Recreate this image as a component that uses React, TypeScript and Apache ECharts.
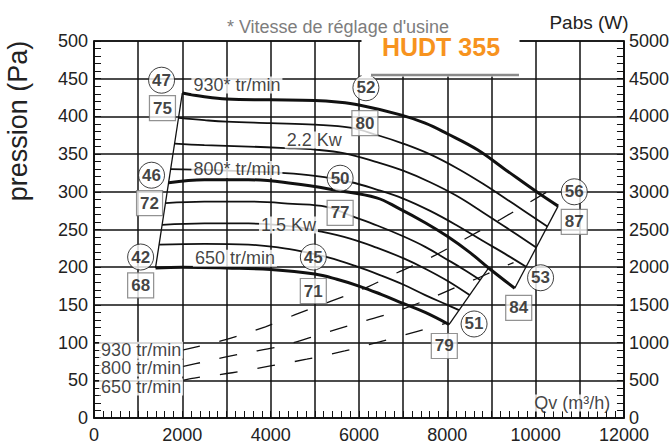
import React, { useEffect, useRef } from "react";
import * as echarts from "echarts";

const FONT = '"Liberation Sans", Arial, Helvetica, sans-serif';

// Fan curves (Qv m3/h, pression Pa)
const curve930 = [[2000,431],[2500,426],[3000,423],[4000,422],[5000,421],[5500,419],[6000,415],[6943,402],[7500,391],[8000,377],[8674,356],[9300,330],[10022,300],[10509,281]];
const curveA = [[1914,398],[2500,395],[3000,393],[4000,391],[5000,389],[5800,385],[6426,375],[7000,364],[7600,350],[8200,332],[8800,311],[9500,284],[10266,254]];
const curveB = [[1825,364],[2500,362],[3500,360],[4330,358],[5000,356],[5678,351],[6426,339],[7000,328],[7600,313],[8200,295],[8800,273],[9400,250],[10013,226]];
const curveC = [[1736,330],[2500,329],[3500,327],[4250,325],[5000,321],[5800,313],[6400,303],[7000,291],[7600,275],[8200,256],[8800,235],[9300,218],[9784,200.5]];
const curve800 = [[1690,312],[2500,316],[3500,316],[4500,311],[5500,302],[6400,292],[6900,278],[7500,259],[8000,241],[8500,220],[8936,199],[9527,172]];
const curveD = [[1618,285],[2500,287],[3500,287],[4500,284],[5265,280],[5827,268],[6426,255],[7000,241],[7500,227],[8000,210],[8400,196],[8744,183]];
const curveE = [[1542,256],[2500,258],[3500,258],[4500,254],[5078,248],[5800,238],[6400,226],[7000,212],[7500,198],[8000,182],[8505,163]];
const curveF = [[1474,230],[2500,231],[3500,230],[4200,226],[4700,221],[5300,213],[5900,202],[6500,189],[7000,177],[7500,163],[8000,150],[8265,143]];
const curve650 = [[1393,199],[2000,200],[3000,199],[4000,197],[5000,191],[5500,184],[6000,175],[6500,164],[7000,152],[7500,140],[8038,124]];

const thickCurves = [curve930, curve800, curve650];
const thinCurves = [curveA, curveB, curveC, curveD, curveE, curveF];

// Boundaries
const leftBoundary = [[1393,199],[2000,431]];
const rightBoundaryHigh = [[9527,172],[10509,281]];
const rightBoundaryLow = [[8038,124],[8936,199]];

// System (dashed) curves
const system930 = [[2000,90],[2982,104],[3881,121],[4555,137],[5370,155],[6202,174],[6876,193],[7663,214],[8449,239],[9191,263],[10320,302]];
const system800 = [[2000,68],[2532,75],[3393,86],[4218,95],[5078,110],[5902,125],[6725,139],[7550,157],[8337,177],[8674,185],[9123,197],[9500,206]];
const system650 = [[2000,50],[2270,53],[3130,60],[3993,69],[4816,78],[5678,89],[6464,101],[7325,115],[7700,121],[8000,126]];

// Annotations
const circleLabels = [[1530,448,"47"],[6157,438,"52"],[1303,322,"46"],[5573,318,"50"],[1056,213.5,"42"],[4966,213.5,"45"],[10875,300,"56"],[10112,186,"53"],[8606,124.7,"51"]];
const boxLabels = [[1550,411,"75"],[6134,391,"80"],[1258,285,"72"],[5573,272,"77"],[1056,176,"68"],[4966,168.4,"71"],[10875,260,"87"],[9617,146,"84"],[7932,95.5,"79"]];
const textLabels = [[3236,441.6,"930* tr/min"],[4988,368.7,"2.2 Kw"],[3236,329.6,"800* tr/min"],[4404,256,"1.5 Kw"],[3191,212,"650 tr/min"],[1067,90,"930 tr/min"],[1067,66.3,"800 tr/min"],[1067,41,"650 tr/min"],[10831,20,"Qv (m³/h)"]];

const X_MIN = 0, X_MAX = 12000, X_STEP = 1000;
const Y_MIN = 0, Y_MAX = 500, Y_STEP = 50;
const W_MIN = 0, W_MAX = 5000, W_STEP = 500;

export default function App() {
  const ref = useRef<HTMLDivElement>(null);
  useEffect(() => {
    if (!ref.current) return;
    const chart = echarts.init(ref.current, undefined, { renderer: "svg" });
    const lineBase = { type: "line", showSymbol: false, symbol: "none", silent: true, z: 3 };
    const series: any[] = [];
    [system930, system800, system650].forEach((d) =>
      series.push({ ...lineBase, data: d, smooth: 0.3, z: 2, lineStyle: { color: "#111", width: 1.3, type: [18, 20] } })
    );
    [leftBoundary, rightBoundaryHigh, rightBoundaryLow].forEach((d) =>
      series.push({ ...lineBase, data: d, lineStyle: { color: "#111", width: 1.3 } })
    );
    thinCurves.forEach((d) =>
      series.push({ ...lineBase, data: d, smooth: 0.4, lineStyle: { color: "#111", width: 1.8 } })
    );
    thickCurves.forEach((d) =>
      series.push({ ...lineBase, data: d, smooth: 0.4, lineStyle: { color: "#111", width: 3 } })
    );
    series.push({
      type: "scatter", data: circleLabels, symbol: "circle", symbolSize: 26, silent: true, z: 6,
      itemStyle: { color: "#fff", borderColor: "#111", borderWidth: 1 },
      label: { show: true, position: "inside", formatter: (p: any) => p.data[2], color: "#111", fontWeight: "bold", fontSize: 17, fontFamily: FONT },
    });
    series.push({
      type: "scatter", data: boxLabels, symbol: "rect", symbolSize: [26, 25], silent: true, z: 6,
      itemStyle: { color: "#fff", borderColor: "#777", borderWidth: 1.2 },
      label: { show: true, position: "inside", formatter: (p: any) => p.data[2], color: "#111", fontWeight: "bold", fontSize: 17, fontFamily: FONT },
    });
    series.push({
      type: "scatter", data: textLabels, symbol: "circle", symbolSize: 1, silent: true, z: 7,
      itemStyle: { color: "rgba(0,0,0,0)" },
      label: { show: true, position: "inside", formatter: (p: any) => p.data[2], color: "#111", fontSize: 18, fontFamily: FONT, backgroundColor: "#fff", padding: [0, 2], lineHeight: 17 },
    });

    const axisCommon = {
      axisLine: { show: true, lineStyle: { color: "#111", width: 1.5 } },
      axisTick: { show: true, inside: true, length: 7, lineStyle: { color: "#111", width: 1 } },
      minorTick: { show: true, splitNumber: 5, length: 7, lineStyle: { color: "#111", width: 1 } },
    };

    chart.setOption({
      animation: false,
      grid: { left: 94, right: 44, top: 41, bottom: 27, show: true, borderColor: "#111", borderWidth: 1.5, backgroundColor: "transparent" },
      xAxis: {
        type: "value", min: X_MIN, max: X_MAX, interval: X_STEP, ...axisCommon,
        splitLine: { show: true, lineStyle: { color: "#111", width: 1.5 } },
        axisLabel: { formatter: (v: number) => (v % 2000 === 0 ? String(v) : ""), color: "#222", fontSize: 18, fontFamily: FONT, margin: 8 },
      },
      yAxis: [
        {
          type: "value", min: Y_MIN, max: Y_MAX, interval: Y_STEP, position: "left", ...axisCommon,
          splitLine: { show: true, lineStyle: { color: "#111", width: 1.5 } },
          axisLabel: { formatter: (v: number) => String(v), color: "#222", fontSize: 18, fontFamily: FONT, margin: 6 },
        },
        {
          type: "value", min: W_MIN, max: W_MAX, interval: W_STEP, position: "right", ...axisCommon,
          splitLine: { show: false },
          axisLabel: { formatter: (v: number) => String(v), color: "#222", fontSize: 18, fontFamily: FONT, margin: 5 },
        },
      ],
      series,
      graphic: [
        { type: "rect", z: 100, shape: { x: 361.5, y: 30, width: 158, height: 46.5 }, style: { fill: "#fff" } },
        { type: "line", z: 101, shape: { x1: 371, y1: 75, x2: 519, y2: 75 }, style: { stroke: "#8a8a8a", lineWidth: 2.5 } },
        { type: "text", z: 101, x: 338, y: 27, style: { text: "* Vitesse de réglage d'usine", fill: "#7d7d7d", font: `18px ${FONT}`, align: "center", verticalAlign: "middle" } },
        { type: "text", z: 101, x: 441, y: 47, style: { text: "HUDT 355", fill: "#f7931e", font: `bold 25px ${FONT}`, align: "center", verticalAlign: "middle" } },
        { type: "text", z: 101, x: 589, y: 22, style: { text: "Pabs (W)", fill: "#222", font: `19px ${FONT}`, align: "center", verticalAlign: "middle" } },
        { type: "text", z: 101, x: 18, y: 121, rotation: Math.PI / 2, style: { text: "pression (Pa)", fill: "#222", font: `27px ${FONT}`, align: "center", verticalAlign: "middle" } },
      ],
    });
    return () => chart.dispose();
  }, []);
  return <div ref={ref} style={{ position: "fixed", left: 0, top: 0, width: 672, height: 445, background: "#fff" }} />;
}
